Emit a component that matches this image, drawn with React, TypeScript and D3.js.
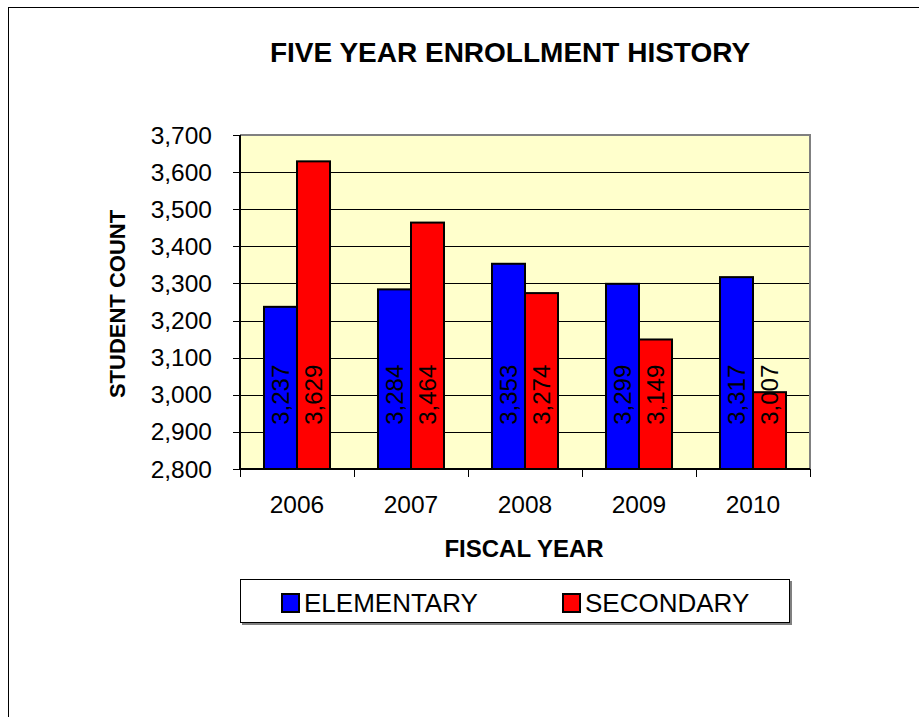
import React from "react";
import * as d3 from "d3";

// Fiscal years and enrollment counts per school level
const years = ["2006", "2007", "2008", "2009", "2010"];
const seriesNames = ["ELEMENTARY", "SECONDARY"];
const elementary = [3237, 3284, 3353, 3299, 3317];
const secondary = [3629, 3464, 3274, 3149, 3007];
const seriesColors = ["#0000FF", "#FF0000"];
const yTicks = [2800, 2900, 3000, 3100, 3200, 3300, 3400, 3500, 3600, 3700];

const W = 919;
const H = 717;
const FONT = "'Liberation Sans', Arial, Helvetica, sans-serif";

const plot = { left: 240, right: 810, top: 135, bottom: 469 };

export default function App() {
  const x = d3
    .scaleBand<string>()
    .domain(years)
    .range([plot.left, plot.right])
    .paddingInner(0)
    .paddingOuter(0);

  const xInner = d3
    .scaleBand<string>()
    .domain(seriesNames)
    .range([0, x.bandwidth()])
    .paddingInner(0)
    .paddingOuter(0.727);

  const y = d3
    .scaleLinear()
    .domain([2800, 3700])
    .range([plot.bottom, plot.top]);

  const fmt = d3.format(",");
  const seriesValues = [elementary, secondary];
  const labelCenterY = y(3000);

  const xTickPositions = years.map((yr) => x(yr) as number).concat([plot.right]);

  return (
    <svg
      width={W}
      height={H}
      viewBox={`0 0 ${W} ${H}`}
      style={{ position: "absolute", left: 0, top: 0, display: "block", background: "#fff" }}
      fontFamily={FONT}
    >
      {/* chart frame */}
      <rect x={8.5} y={7.5} width={W + 20} height={H + 20} fill="#fff" stroke="#000" strokeWidth={1} />

      {/* title */}
      <text x={510} y={62} textAnchor="middle" fontSize={28} fontWeight="bold" fill="#000">
        FIVE YEAR ENROLLMENT HISTORY
      </text>

      {/* plot background */}
      <rect
        x={plot.left}
        y={plot.top}
        width={plot.right - plot.left}
        height={plot.bottom - plot.top}
        fill="#FFFFCC"
      />

      {/* gridlines */}
      {yTicks.slice(1).map((t) => (
        <line
          key={`g${t}`}
          x1={plot.left}
          x2={plot.right}
          y1={Math.round(y(t)) + 0.5}
          y2={Math.round(y(t)) + 0.5}
          stroke="#000"
          strokeWidth={1}
        />
      ))}

      {/* plot border (top and right) */}
      <path
        d={`M${plot.left},${plot.top} H${plot.right} V${plot.bottom}`}
        fill="none"
        stroke="#808080"
        strokeWidth={2}
      />

      {/* bars */}
      {years.map((yr, i) =>
        seriesNames.map((s, j) => {
          const v = seriesValues[j][i];
          const bx = (x(yr) as number) + (xInner(s) as number);
          const bw = xInner.bandwidth();
          return (
            <rect
              key={`b${yr}${s}`}
              x={bx}
              y={y(v)}
              width={bw}
              height={plot.bottom - y(v)}
              fill={seriesColors[j]}
              stroke="#000"
              strokeWidth={2}
            />
          );
        })
      )}

      {/* data labels */}
      {years.map((yr, i) =>
        seriesNames.map((s, j) => {
          const v = seriesValues[j][i];
          const cx = (x(yr) as number) + (xInner(s) as number) + xInner.bandwidth() / 2;
          return (
            <text
              key={`l${yr}${s}`}
              transform={`translate(${cx},${labelCenterY}) rotate(-90)`}
              textAnchor="middle"
              dominantBaseline="central"
              fontSize={24}
              fill="#000"
            >
              {fmt(v)}
            </text>
          );
        })
      )}

      {/* y axis */}
      <line x1={plot.left} x2={plot.left} y1={plot.top} y2={plot.bottom} stroke="#000" strokeWidth={2} />
      {yTicks.map((t) => (
        <g key={`yt${t}`}>
          <line
            x1={plot.left - 7}
            x2={plot.left}
            y1={Math.round(y(t)) + 0.5}
            y2={Math.round(y(t)) + 0.5}
            stroke="#000"
            strokeWidth={1}
          />
          <text x={212} y={y(t)} dy="0.35em" textAnchor="end" fontSize={24.5} fill="#000">
            {fmt(t)}
          </text>
        </g>
      ))}

      {/* x axis */}
      <line x1={plot.left} x2={plot.right} y1={plot.bottom} y2={plot.bottom} stroke="#000" strokeWidth={2} />
      {xTickPositions.map((px, k) => (
        <line
          key={`xt${k}`}
          x1={Math.round(px) + 0.5}
          x2={Math.round(px) + 0.5}
          y1={plot.bottom}
          y2={plot.bottom + 8}
          stroke="#000"
          strokeWidth={1}
        />
      ))}
      {years.map((yr) => (
        <text
          key={`xl${yr}`}
          x={(x(yr) as number) + x.bandwidth() / 2}
          y={513}
          textAnchor="middle"
          fontSize={24.5}
          fill="#000"
        >
          {yr}
        </text>
      ))}

      {/* axis titles */}
      <text x={524} y={557} textAnchor="middle" fontSize={24} fontWeight="bold" fill="#000">
        FISCAL YEAR
      </text>
      <text
        transform={`translate(125,304) rotate(-90)`}
        textAnchor="middle"
        fontSize={22}
        fontWeight="bold"
        fill="#000"
      >
        STUDENT COUNT
      </text>

      {/* legend */}
      <rect x={242} y={581} width={550} height={44} fill="#808080" />
      <rect x={240.5} y={579.5} width={549} height={43} fill="#fff" stroke="#000" strokeWidth={1} />
      {seriesNames.map((s, j) => {
        const lx = j === 0 ? 282 : 563;
        return (
          <g key={`lg${s}`}>
            <rect x={lx} y={594} width={17} height={18} fill={seriesColors[j]} stroke="#000" strokeWidth={2} />
            <text x={lx + 22} y={612} fontSize={26} fill="#000">
              {s}
            </text>
          </g>
        );
      })}
    </svg>
  );
}
